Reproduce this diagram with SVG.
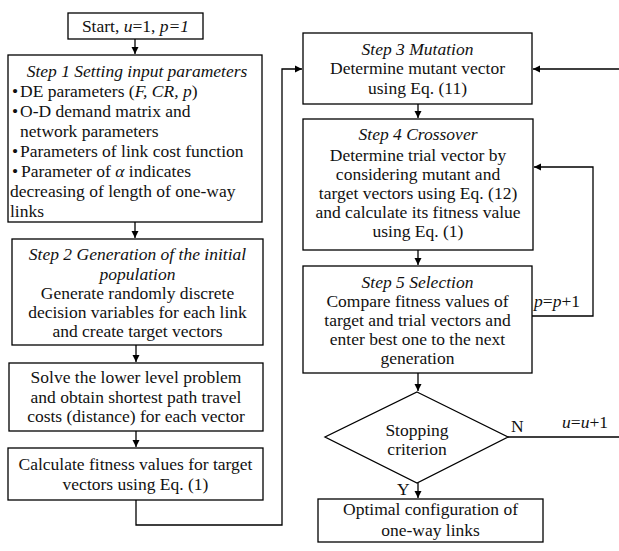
<svg xmlns="http://www.w3.org/2000/svg" width="619" height="551" viewBox="0 0 619 551">
<defs>
<marker id="ah" markerWidth="8" markerHeight="8" refX="7" refY="4" orient="auto" markerUnits="userSpaceOnUse">
<path d="M0,0.5 L7,4 L0,7.5 Z" fill="#000"/>
</marker>
<style>
.box{fill:#fff;stroke:#000;stroke-width:1.3}
text{font-family:"Liberation Serif","Times New Roman",serif;font-size:17.5px;fill:#111}
.c{text-anchor:middle}
.i{font-style:italic}
.con{fill:none;stroke:#000;stroke-width:1.3}
</style>
</defs>
<rect width="619" height="551" fill="#fff"/>
<g id="connectors">
<path class="con" d="M135,39 V54" marker-end="url(#ah)"/>
<path class="con" d="M135,222 V238" marker-end="url(#ah)"/>
<path class="con" d="M136,345 V362" marker-end="url(#ah)"/>
<path class="con" d="M136,431 V447" marker-end="url(#ah)"/>
<path class="con" d="M136,500 V525 H282 V69 H302" marker-end="url(#ah)"/>
<path class="con" d="M418,104 V118" marker-end="url(#ah)"/>
<path class="con" d="M418,250 V265" marker-end="url(#ah)"/>
<path class="con" d="M418,373 V391" marker-end="url(#ah)"/>
<path class="con" d="M418,483 V498" marker-end="url(#ah)"/>
<path class="con" d="M532,316 H593 V167 H534" marker-end="url(#ah)"/>
<path class="con" d="M508,437 H621 V69 H533" marker-end="url(#ah)"/>
<text x="534" y="307"><tspan class="i">p</tspan>=<tspan class="i">p</tspan>+1</text>
<text x="562" y="428"><tspan class="i">u</tspan>=<tspan class="i">u</tspan>+1</text>
<text x="511" y="432">N</text>
<text x="397" y="495">Y</text>
</g>
<g id="start">
<rect class="box" x="68" y="13" width="135" height="26"/>
<text class="c" x="135.5" y="32">Start, <tspan class="i">u</tspan>=1, <tspan class="i">p=1</tspan></text>
</g>
<g id="step1">
<rect class="box" x="8" y="55" width="254" height="167"/>
<text class="c i" x="137" y="77">Step 1 Setting input parameters</text>
<text x="12" y="97">•</text><text x="20" y="97">DE parameters (<tspan class="i">F, CR, p</tspan>)</text>
<text x="12" y="117">•</text><text x="20" y="117">O-D demand matrix and</text>
<text x="20" y="137">network parameters</text>
<text x="12" y="157">•</text><text x="20" y="157">Parameters of link cost function</text>
<text x="12" y="177">•</text><text x="21" y="177">Parameter of <tspan class="i">α</tspan> indicates</text>
<text x="10" y="197">decreasing of length of one-way</text>
<text x="10" y="217">links</text>
</g>
<g id="step2">
<rect class="box" x="12" y="239" width="251" height="106"/>
<text class="c i" x="137.5" y="260">Step 2 Generation of the initial</text>
<text class="c i" x="137.5" y="280">population</text>
<text class="c" x="137.5" y="299">Generate randomly discrete</text>
<text class="c" x="137.5" y="318">decision variables for each link</text>
<text class="c" x="137.5" y="337">and create target vectors</text>
</g>
<g id="solve">
<rect class="box" x="9" y="363" width="254" height="68"/>
<text class="c" x="136" y="383">Solve the lower level problem</text>
<text class="c" x="136" y="403">and obtain shortest path travel</text>
<text class="c" x="136" y="422">costs (distance) for each vector</text>
</g>
<g id="fitness">
<rect class="box" x="8" y="448" width="255" height="52"/>
<text class="c" x="135.5" y="470">Calculate fitness values for target</text>
<text class="c" x="135.5" y="490">vectors using Eq. (1)</text>
</g>
<g id="step3">
<rect class="box" x="303" y="33" width="229" height="71"/>
<text class="c i" x="417.5" y="55">Step 3 Mutation</text>
<text class="c" x="417.5" y="74">Determine mutant vector</text>
<text class="c" x="417.5" y="94">using Eq. (11)</text>
</g>
<g id="step4">
<rect class="box" x="303" y="119" width="230" height="131"/>
<text class="c i" x="418" y="140">Step 4 Crossover</text>
<text class="c" x="418" y="161">Determine trial vector by</text>
<text class="c" x="418" y="180">considering mutant and</text>
<text class="c" x="418" y="199">target vectors using Eq. (12)</text>
<text class="c" x="418" y="218">and calculate its fitness value</text>
<text class="c" x="418" y="237">using Eq. (1)</text>
</g>
<g id="step5">
<rect class="box" x="303" y="266" width="229" height="107"/>
<text class="c i" x="417.5" y="288">Step 5 Selection</text>
<text class="c" x="417.5" y="307">Compare fitness values of</text>
<text class="c" x="417.5" y="326">target and trial vectors and</text>
<text class="c" x="417.5" y="345">enter best one to the next</text>
<text class="c" x="417.5" y="364">generation</text>
</g>
<g id="decision">
<polygon class="box" points="417,392 508,437 417,483 325,437"/>
<text class="c" x="417" y="436">Stopping</text>
<text class="c" x="417" y="455">criterion</text>
</g>
<g id="end">
<rect class="box" x="318" y="499" width="225" height="43"/>
<text class="c" x="430.5" y="515">Optimal configuration of</text>
<text class="c" x="430.5" y="536">one-way links</text>
</g>
</svg>
